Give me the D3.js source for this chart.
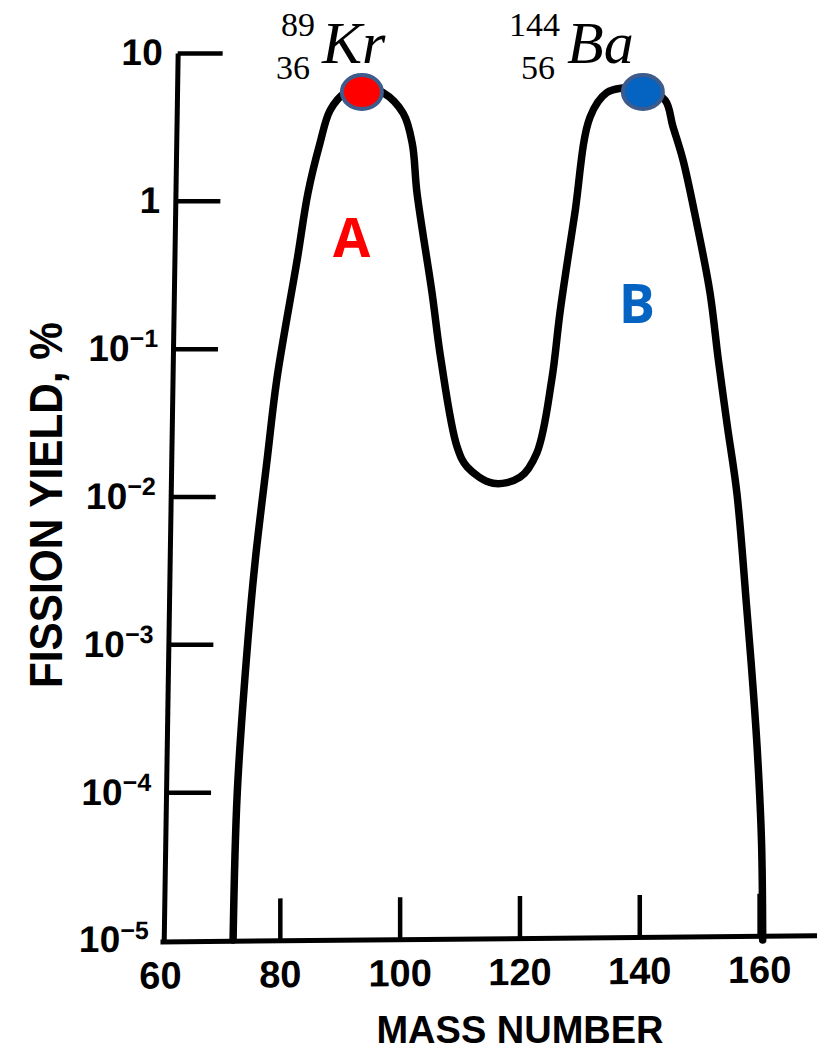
<!DOCTYPE html>
<html>
<head>
<meta charset="utf-8">
<script src="https://cdn.jsdelivr.net/npm/d3@7"></script>
<style>
  body { margin: 0; background: #fff; }
</style>
</head>
<body>
<div id="chart"></div>
<script>
/* DATA */
const massNumber = [72.2, 72.9, 74.7, 75.9, 77.9, 79.5, 82.9, 84.7, 86.7, 88.4, 90.9, 93.7,
  97.2, 100.6, 102.1, 102.9, 105.4, 106.9, 109.6, 111.3, 115.6, 120.1,
  122.9, 125.4, 126.8, 129.2, 131.8, 134.6, 137.3, 140.6, 144.3, 145.6,
  147.3, 149.7, 151.8, 153.2, 154.7, 156.3, 157.9, 158.9, 159.7, 160.4, 160.6];
const fissionYield = [1e-5, 1.0e-4, 1.1e-3, 3.7e-3, 0.018, 0.062, 0.40, 1.13, 2.45, 4.1, 5.4, 5.9,
  5.4, 3.9, 2.45, 1.13, 0.24, 0.084, 0.0216, 0.0158, 0.0123, 0.0135,
  0.0197, 0.062, 0.18, 0.80, 3.7, 5.4, 5.8, 5.8, 4.8, 3.2,
  1.89, 0.67, 0.24, 0.084, 0.030, 0.0105, 0.00184, 5.7e-4, 1.92e-4, 4.7e-5, 1e-5];

const xTicks = [60, 80, 100, 120, 140, 160];
const yTicks = [10, 1, 0.1, 0.01, 0.001, 1e-4, 1e-5];

// the two marked fragments
const isoSymbol = ["Kr", "Ba"];
const isoMassNum = ["89", "144"];
const isoAtomicNum = ["36", "56"];
const isoMass = [93.7, 140.6];
const isoYield = [5.45, 5.45];
const isoLabelMass = [87.05, 127.95];   // where the symbol text starts
const isoFill = ["#ff0000", "#0563c1"];

// peak letters
const peakLetter = ["A", "B"];
const peakMass = [92, 139.6];
const peakYield = [0.42, 0.15];
const peakColor = ["#ff0000", "#0563c1"];

/* LAYOUT */
const width = 817, height = 1053;
const ink = "#000";
const sans = "'Liberation Sans', Arial, sans-serif";
const serif = "'Liberation Serif', 'Times New Roman', serif";

const svg = d3.select("#chart").append("svg")
  .attr("width", width)
  .attr("height", height);

const x = d3.scaleLinear().domain([60, 170]).range([160, 819]);
const y = d3.scaleLog().domain([1e-5, 10]).range([940, 53]);

// y axis (the scan is a little skewed)
const yAxis = d3.axisLeft(y)
  .tickValues(yTicks)
  .tickSizeInner(-45)
  .tickSizeOuter(0)
  .tickPadding(15)
  .tickFormat(() => "");

const gy = svg.append("g")
  .attr("transform", "translate(178.5,0) skewX(-0.9)")
  .call(yAxis);

gy.select(".domain").attr("stroke", ink).attr("stroke-width", 5);
gy.selectAll(".tick line").attr("stroke", ink).attr("stroke-width", 4.5)
  .filter(d => d === 1e-5).remove();

gy.selectAll(".tick text")
  .attr("fill", ink)
  .attr("font-family", sans)
  .attr("font-weight", "bold")
  .attr("font-size", 37)
  .each(function(d) {
    const t = d3.select(this);
    const e = Math.round(Math.log10(d));
    if (e === 1) t.text("10");
    else if (e === 0) t.text("1");
    else {
      t.append("tspan").text("10");
      t.append("tspan").attr("font-size", 25).attr("dy", "-0.55em").text("\u2212" + (-e));
    }
  });

// x axis
const xAxis = d3.axisBottom(x)
  .tickValues(xTicks)
  .tickSizeInner(-42)
  .tickSizeOuter(0)
  .tickPadding(20)
  .tickFormat(d3.format("d"));

const gx = svg.append("g")
  .attr("transform", "translate(0,943) skewY(-0.54)")
  .call(xAxis);

gx.select(".domain").attr("stroke", ink).attr("stroke-width", 5);
gx.selectAll(".tick line").attr("stroke", ink).attr("stroke-width", 4.5)
  .filter(d => d === 60).remove();
gx.selectAll(".tick text")
  .attr("fill", ink)
  .attr("font-family", sans)
  .attr("font-weight", "bold")
  .attr("font-size", 38);

// axis titles
svg.append("text")
  .attr("x", 520).attr("y", 1043)
  .attr("text-anchor", "middle")
  .attr("font-family", sans).attr("font-weight", "bold").attr("font-size", 38)
  .text("MASS NUMBER");

svg.append("text")
  .attr("transform", "translate(62,505) rotate(-90)")
  .attr("text-anchor", "middle")
  .attr("font-family", sans).attr("font-weight", "bold").attr("font-size", 46)
  .attr("textLength", 366).attr("lengthAdjust", "spacingAndGlyphs")
  .text("FISSION YIELD, %");

// the yield curve
const pts = massNumber.map((m, i) => [m, fissionYield[i]]);
const line = d3.line()
  .x(d => x(d[0]))
  .y(d => y(d[1]))
  .curve(d3.curveCatmullRom.alpha(0.5));

svg.append("path")
  .datum(pts)
  .attr("d", line)
  .attr("fill", "none")
  .attr("stroke", ink)
  .attr("stroke-width", 7.5)
  .attr("stroke-linejoin", "round")
  .attr("stroke-linecap", "round");

// markers on the peaks
svg.selectAll(".iso")
  .data(isoSymbol)
  .join("ellipse")
  .attr("class", "iso")
  .attr("cx", (d, i) => x(isoMass[i]))
  .attr("cy", (d, i) => y(isoYield[i]))
  .attr("rx", 20)
  .attr("ry", 17)
  .attr("fill", (d, i) => isoFill[i])
  .attr("stroke", "#3d5c8c")
  .attr("stroke-width", 4);

// nuclide notation
const lab = svg.selectAll(".isolab")
  .data(isoSymbol)
  .join("g")
  .attr("class", "isolab")
  .attr("transform", (d, i) => `translate(${x(isoLabelMass[i])},${y(isoYield[i])})`)
  .attr("font-family", serif);

lab.append("text")
  .attr("y", -29)
  .attr("font-style", "italic")
  .attr("font-size", 60)
  .text(d => d);

lab.append("text")
  .attr("x", -7).attr("y", -56)
  .attr("text-anchor", "end")
  .attr("font-size", 34)
  .text((d, i) => isoMassNum[i]);

lab.append("text")
  .attr("x", -12).attr("y", -13)
  .attr("text-anchor", "end")
  .attr("font-size", 34)
  .text((d, i) => isoAtomicNum[i]);

// A / B
svg.selectAll(".peak")
  .data(peakLetter)
  .join("text")
  .attr("class", "peak")
  .attr("x", (d, i) => x(peakMass[i]))
  .attr("y", (d, i) => y(peakYield[i]))
  .attr("text-anchor", "middle")
  .attr("font-family", "'Open Sans', " + sans)
  .attr("font-weight", "bold")
  .attr("font-size", 54)
  .attr("fill", (d, i) => peakColor[i])
  .text(d => d);
</script>
</body>
</html>
